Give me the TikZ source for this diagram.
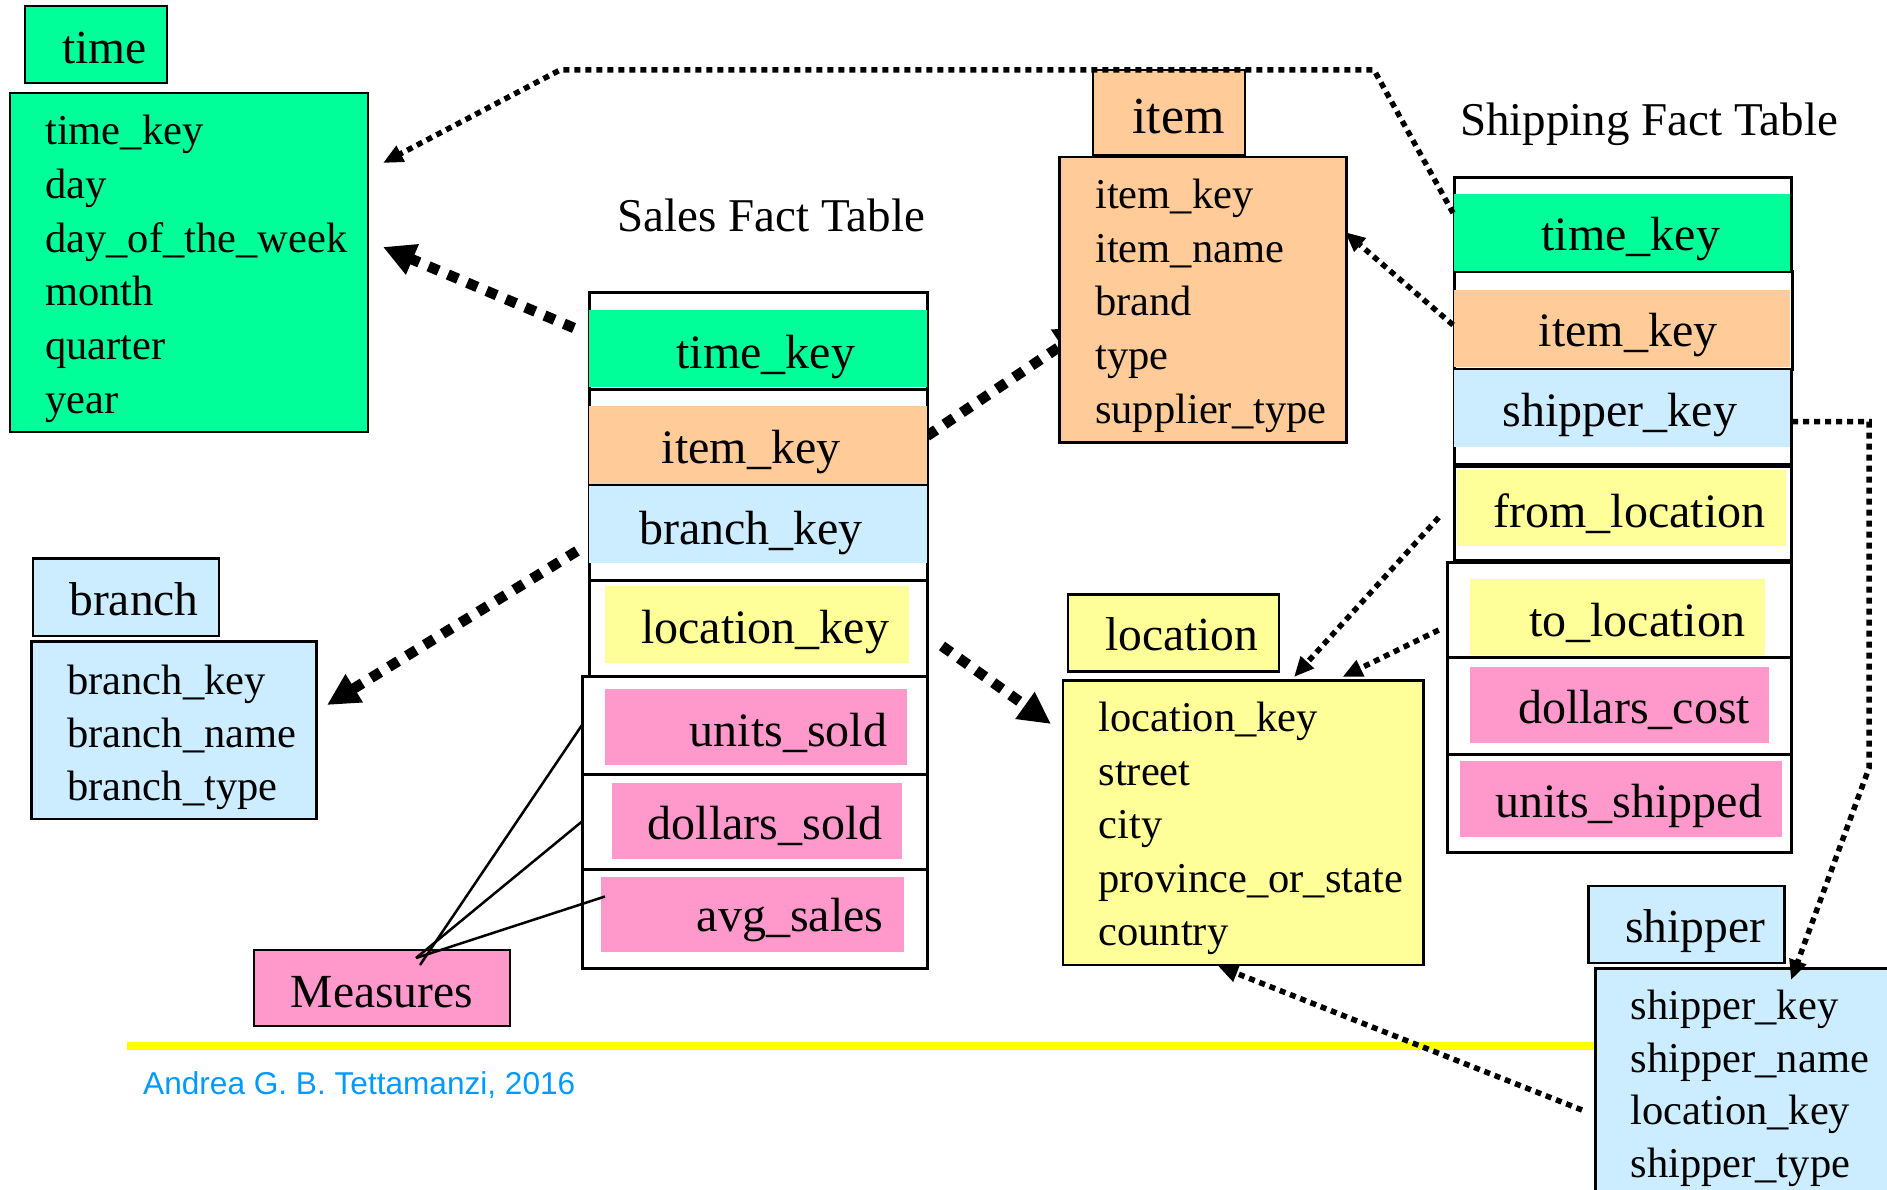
\documentclass[tikz,border=0pt]{standalone}
\usepackage{fontspec}
\setmainfont{Liberation Serif}
\newfontfamily\creditfont{Liberation Sans}
\usetikzlibrary{arrows.meta}

\definecolor{timegreen}{RGB}{0,255,153}
\definecolor{itemorange}{RGB}{255,204,153}
\definecolor{branchblue}{RGB}{204,236,255}
\definecolor{locyellow}{RGB}{255,255,153}
\definecolor{measpink}{RGB}{255,153,204}
\definecolor{rulegold}{RGB}{255,255,0}
\definecolor{creditblue}{RGB}{0,153,255}

% rectangle node from its top-left and bottom-right corners (y grows downwards)
\newcommand{\mkbox}[6]{\node[#1, anchor=north west, minimum width={#4-#2}, minimum height={#5-#3}] (#6) at (#2,#3) {};}

\begin{document}
\begin{tikzpicture}[x=1pt, y=-1pt,
  dimbox/.style={draw=black, line width=2.4pt, inner sep=0pt, outer sep=0pt},
  factsec/.style={draw=black, line width=3pt, fill=white, inner sep=0pt, outer sep=0pt},
  band/.style={draw=none, inner sep=0pt, outer sep=0pt},
  hdrtxt/.style={font=\fontsize{47.5}{57}\selectfont, inner sep=0pt, anchor=base},
  lsttxt/.style={font=\fontsize{42.5}{51}\selectfont, inner sep=0pt, anchor=base west},
  keytxt/.style={font=\fontsize{48}{58}\selectfont, inner sep=0pt, anchor=base},
  ttltxt/.style={font=\fontsize{47}{56}\selectfont, inner sep=0pt, anchor=base west},
  fklink/.style={line width=10.5pt, dash pattern=on 11pt off 10pt, -{Triangle[length=32pt,width=31pt]}},
  shlink/.style={line width=5.5pt, dash pattern=on 6pt off 5pt, -{Triangle[length=20pt,width=17pt]}},
  measline/.style={line width=2.5pt},
  goldrule/.style={draw=rulegold, line width=8.5pt},
]
\useasboundingbox (0,0) rectangle (1887,1190);
\clip (0,0) rectangle (1887,1190);

% ---------- free ends of the links ----------
\coordinate (timeIn1) at (383,163);
\coordinate (timeIn2) at (383,247);
\coordinate (branchIn) at (327,705);
\coordinate (itemIn1) at (1088,327.5);
\coordinate (itemIn2) at (1345,232);
\coordinate (locIn1) at (1051,724);
\coordinate (locIn2) at (1294,677);
\coordinate (locIn3) at (1342.5,677);
\coordinate (locIn4) at (1218,966);
\coordinate (shipIn) at (1791,980);
\coordinate (sTimeOut) at (574,328);
\coordinate (sBranchOut) at (577,551);
\coordinate (sItemOut) at (927,436);
\coordinate (sLocOut) at (942,646);
\coordinate (hTimeOut) at (1453,213);
\coordinate (hItemOut) at (1453,325);
\coordinate (hFromOut) at (1438.7,517.5);
\coordinate (hToOut) at (1438.7,630);
\coordinate (hShipOut) at (1792,421.7);
\coordinate (shipLocOut) at (1582,1110);
\coordinate (topBendR) at (1374,70);
\coordinate (topBendL) at (560,70);
\coordinate (sideBendT) at (1869,421.7);
\coordinate (sideBendB) at (1869,768);

% the item link runs in under the item table
\draw[fklink, -{Triangle[length=32pt,width=36pt]}] (sItemOut) -- (itemIn1);

% ---------- dimension tables ----------
% time
\mkbox{dimbox, fill=timegreen}{25}{6}{167}{83}{timeH}
\node[hdrtxt] (timeHT) at (104.8,64) {time};
\mkbox{dimbox, fill=timegreen}{10}{93}{368}{432}{timeB}
\foreach \w [count=\i] in {time\_key,day,day\_of\_the\_week,month,quarter,year}
  \node[lsttxt] (timeL\i) at (45,{145+53.6*(\i-1)}) {\w};

% item
\mkbox{dimbox, fill=itemorange}{1093}{70}{1245}{155}{itemH}
\node[hdrtxt, font=\fontsize{52}{60}\selectfont] (itemHT) at (1178.6,133.3) {item};
\mkbox{dimbox, fill=itemorange}{1059.5}{157}{1346.5}{442.5}{itemB}
\foreach \w [count=\i] in {item\_key,item\_name,brand,type,supplier\_type}
  \node[lsttxt] (itemL\i) at (1095,{208.3+53.75*(\i-1)}) {\w};

% branch
\mkbox{dimbox, fill=branchblue}{33}{558.5}{219}{636}{branchH}
\node[hdrtxt] (branchHT) at (134,615.7) {branch};
\mkbox{dimbox, fill=branchblue}{31.6}{641.4}{316.3}{819}{branchB}
\foreach \w [count=\i] in {branch\_key,branch\_name,branch\_type}
  \node[lsttxt] (branchL\i) at (67.2,{694.3+53.2*(\i-1)}) {\w};

% location
\mkbox{dimbox, fill=locyellow}{1068}{594.5}{1279}{671.5}{locH}
\node[hdrtxt] (locHT) at (1181.8,650.5) {location};
\mkbox{dimbox, fill=locyellow}{1063}{680.5}{1423.5}{965}{locB}
\foreach \w [count=\i] in {location\_key,street,city,province\_or\_state,country}
  \node[lsttxt] (locL\i) at (1098.3,{731.8+53.45*(\i-1)}) {\w};

% gold rule under the diagram
\coordinate (ruleL) at (126.5,1046);
\coordinate (ruleR) at (1596,1046);
\draw[goldrule] (ruleL) -- (ruleR);

% shipper
\mkbox{dimbox, fill=branchblue}{1588.5}{886}{1784.5}{963}{shipH}
\node[hdrtxt] (shipHT) at (1695,942.2) {shipper};
\mkbox{dimbox, fill=branchblue}{1595.5}{968.5}{1910}{1210}{shipB}
\foreach \w [count=\i] in {shipper\_key,shipper\_name,location\_key,shipper\_type}
  \node[lsttxt] (shipL\i) at (1630.4,{1019.7+52.6*(\i-1)}) {\w};

% measures
\mkbox{dimbox, fill=measpink}{254}{950}{510}{1026}{meas}
\node[hdrtxt] (measT) at (382,1007) {Measures};

% ---------- sales fact table ----------
\node[ttltxt] (salesTitle) at (617.5,231.7) {Sales Fact Table};
\mkbox{factsec}{589}{293}{927}{389}{sTimeSec}
\mkbox{factsec}{589}{389}{927}{485}{sItemSec}
\mkbox{factsec}{589}{485}{927}{580}{sBranchSec}
\mkbox{factsec}{589}{580}{927}{676}{sLocSec}
\mkbox{factsec}{582}{676}{927}{774}{sUnitsSec}
\mkbox{factsec}{582}{774}{927}{869}{sDollarsSec}
\mkbox{factsec}{582}{869}{927}{968}{sAvgSec}
\mkbox{band, fill=timegreen}{589}{310}{927}{387}{sTimeBand}
\mkbox{band, fill=itemorange}{589}{406}{927}{483.5}{sItemBand}
\mkbox{band, fill=branchblue}{589}{486}{927}{562.5}{sBranchBand}
\mkbox{band, fill=locyellow}{605}{586}{909}{662.6}{sLocBand}
\mkbox{band, fill=measpink}{605}{689}{906.7}{765}{sUnitsBand}
\mkbox{band, fill=measpink}{611.7}{783}{901.7}{858.7}{sDollarsBand}
\mkbox{band, fill=measpink}{601}{877}{904}{952}{sAvgBand}
\node[keytxt] (sTimeT) at (765.8,368.7) {time\_key};
\node[keytxt] (sItemT) at (751,463) {item\_key};
\node[keytxt] (sBranchT) at (751,544) {branch\_key};
\node[keytxt] (sLocT) at (765,643) {location\_key};
\node[keytxt] (sUnitsT) at (788.5,746) {units\_sold};
\node[keytxt] (sDollarsT) at (765,839) {dollars\_sold};
\node[keytxt] (sAvgT) at (790,931) {avg\_sales};

% ---------- shipping fact table ----------
\node[ttltxt] (shipTitle) at (1460,136) {Shipping Fact Table};
\mkbox{factsec}{1454}{178}{1791}{272}{hTimeSec}
\mkbox{factsec}{1454}{272}{1792}{369}{hItemSec}
\mkbox{factsec}{1454}{369}{1791}{464}{hShipSec}
\mkbox{factsec}{1454}{466}{1791}{560.5}{hFromSec}
\mkbox{factsec}{1447}{562}{1791}{657.6}{hToSec}
\mkbox{factsec}{1447}{657.6}{1791}{754}{hCostSec}
\mkbox{factsec}{1447}{754}{1791}{852}{hUnitsSec}
\mkbox{band, fill=timegreen}{1454}{194}{1790}{270.7}{hTimeBand}
\mkbox{band, fill=itemorange}{1454}{290}{1790}{367}{hItemBand}
\mkbox{band, fill=branchblue}{1454}{370}{1790}{446.7}{hShipBand}
\mkbox{band, fill=locyellow}{1457}{469.7}{1785.5}{546}{hFromBand}
\mkbox{band, fill=locyellow}{1469.5}{578.7}{1765}{655}{hToBand}
\mkbox{band, fill=measpink}{1469.5}{667}{1769}{743}{hCostBand}
\mkbox{band, fill=measpink}{1459.7}{760.5}{1781.7}{837}{hUnitsBand}
\node[keytxt] (hTimeT) at (1630.7,250.7) {time\_key};
\node[keytxt] (hItemT) at (1628,346.7) {item\_key};
\node[keytxt] (hShipT) at (1619.7,426.7) {shipper\_key};
\node[keytxt] (hFromT) at (1629.6,527) {from\_location};
\node[keytxt] (hToT) at (1637,636) {to\_location};
\node[keytxt] (hCostT) at (1634,723) {dollars\_cost};
\node[keytxt] (hUnitsT) at (1628.8,817.8) {units\_shipped};

% ---------- links ----------
% sales fact table to its dimensions
\draw[fklink] (sTimeOut) -- (timeIn2);
\draw[fklink] (sBranchOut) -- (branchIn);
\draw[fklink] (sLocOut) -- (locIn1);

% shipping fact table to its dimensions
\draw[shlink] (hTimeOut) -- (topBendR) -- (topBendL) -- (timeIn1);
\draw[shlink] (hItemOut) -- (itemIn2);
\draw[shlink] (hFromOut) -- (locIn2);
\draw[shlink] (hToOut) -- (locIn3);
\draw[shlink] (hShipOut) -- (sideBendT) -- (sideBendB) -- (shipIn);
\draw[shlink] (shipLocOut) -- (locIn4);

% measures callout
\coordinate (measTip1) at (420,965);
\coordinate (measTip2) at (416,958);
\draw[measline] (measTip1) -- (sUnitsSec.west);
\draw[measline] (measTip2) -- (sDollarsSec.west);
\draw[measline] (measTip2) -- ([xshift=4pt,yshift=18pt]sAvgBand.west);

% credit line
\node[font=\creditfont\fontsize{31.6}{38}\selectfont, text=creditblue, inner sep=0pt, anchor=base west] (credit) at (143,1094) {Andrea G. B. Tettamanzi, 2016};
\end{tikzpicture}
\end{document}
